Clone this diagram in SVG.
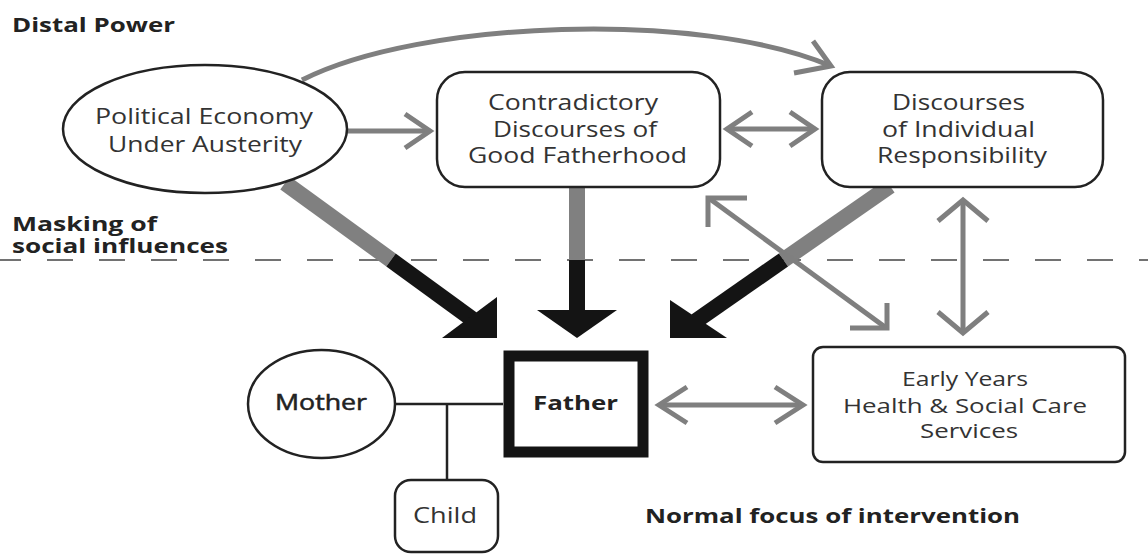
<svg xmlns="http://www.w3.org/2000/svg" width="1148" height="556" viewBox="0 0 1148 556">
<style>
.t{font-family:"Open Sans","Liberation Sans",sans-serif;font-size:21px;fill:#333}
.s{font-size:20px}
.b{font-family:"Open Sans","Liberation Sans",sans-serif;font-size:20px;font-weight:bold;fill:#222}
.bs{font-size:19px}
.node{fill:#fff;stroke:#222;stroke-width:2.5}
.g{fill:none;stroke:#7f7f7f;stroke-width:5;stroke-linecap:butt;stroke-linejoin:miter}
.gt{fill:none;stroke:#808080;stroke-width:16}
.bt{fill:none;stroke:#141414;stroke-width:16}
.ah{fill:#141414;stroke:none}
.fam{fill:none;stroke:#222;stroke-width:2.5}
</style>
<rect width="1148" height="556" fill="#fff"/>
<g id="labels">
<text class="b" x="12" y="32" textLength="163" lengthAdjust="spacingAndGlyphs">Distal Power</text>
<text class="b bs" x="12" y="231" textLength="145" lengthAdjust="spacingAndGlyphs">Masking of</text>
<text class="b bs" x="12" y="253" textLength="216" lengthAdjust="spacingAndGlyphs">social influences</text>
<text class="b" x="645" y="523" textLength="375" lengthAdjust="spacingAndGlyphs">Normal focus of intervention</text>
</g>
<line x1="-5" y1="260" x2="1148" y2="260" stroke="#444" stroke-width="1.6" stroke-dasharray="26 26"/>
<g id="connectors">
<line class="gt" x1="285" y1="183" x2="391" y2="260"/>
<line class="bt" x1="391" y1="260" x2="472" y2="319"/>
<polygon class="ah" points="497,297 497,338 442,338"/>
<line class="gt" x1="577" y1="187" x2="577" y2="260"/>
<line class="bt" x1="577" y1="260" x2="577" y2="312"/>
<polygon class="ah" points="537,310 617,310 577,338"/>
<line class="gt" x1="890" y1="186" x2="783.5" y2="260"/>
<line class="bt" x1="783.5" y1="260" x2="696" y2="321"/>
<polygon class="ah" points="670,300 670,338 727,338"/>
<path class="g" d="M302 80 C420 20 700 10 831 66"/>
<path class="g" d="M813 41 L831 66 L794 73"/>
<line class="g" x1="347" y1="131" x2="429" y2="131"/>
<path class="g" d="M405 114 L430 131 L405 148"/>
<line class="g" x1="727" y1="129" x2="815" y2="129"/>
<path class="g" d="M752 112 L727 129 L752 146"/>
<path class="g" d="M790 112 L815 129 L790 146"/>
<line class="g" x1="710" y1="199" x2="885" y2="327"/>
<path class="g" d="M747 198 L708 198 L708 227"/>
<path class="g" d="M850 328 L887 328 L887 303"/>
<line class="g" x1="963" y1="202" x2="963" y2="331"/>
<path class="g" d="M938 221 L963 200 L988 221"/>
<path class="g" d="M938 312 L963 333 L988 312"/>
<line class="g" x1="659" y1="405" x2="803" y2="405"/>
<path class="g" d="M687 387 L659 405 L687 423"/>
<path class="g" d="M775 387 L803 405 L775 423"/>
<line class="fam" x1="395" y1="404" x2="503" y2="404"/>
<line class="fam" x1="447" y1="404" x2="447" y2="480"/>
</g>
<g id="political">
<ellipse class="node" cx="205" cy="129" rx="142" ry="64"/>
<text class="t" x="95" y="124" textLength="218" lengthAdjust="spacingAndGlyphs">Political Economy</text>
<text class="t" x="108" y="152" textLength="194" lengthAdjust="spacingAndGlyphs">Under Austerity</text>
</g>
<g id="contradictory">
<rect class="node" x="437" y="72" width="283" height="115" rx="28" ry="28"/>
<text class="t" x="488" y="110" textLength="170" lengthAdjust="spacingAndGlyphs">Contradictory</text>
<text class="t" x="493" y="137" textLength="164" lengthAdjust="spacingAndGlyphs">Discourses of</text>
<text class="t" x="468" y="163" textLength="219" lengthAdjust="spacingAndGlyphs">Good Fatherhood</text>
</g>
<g id="individual">
<rect class="node" x="822" y="72" width="281" height="115" rx="28" ry="28"/>
<text class="t" x="892" y="110" textLength="133" lengthAdjust="spacingAndGlyphs">Discourses</text>
<text class="t" x="882" y="137" textLength="153" lengthAdjust="spacingAndGlyphs">of Individual</text>
<text class="t" x="877" y="163" textLength="170" lengthAdjust="spacingAndGlyphs">Responsibility</text>
</g>
<g id="mother">
<ellipse class="node" cx="321.5" cy="404" rx="73.5" ry="54"/>
<text class="t" x="275" y="410" textLength="92" lengthAdjust="spacingAndGlyphs" style="fill:#222;stroke:#222;stroke-width:0.5">Mother</text>
</g>
<g id="father">
<rect x="509" y="356" width="134" height="96" fill="#fff" stroke="#141414" stroke-width="11"/>
<text class="b" x="533" y="410" textLength="85" lengthAdjust="spacingAndGlyphs">Father</text>
</g>
<g id="child">
<rect class="node" x="395" y="480" width="103" height="72" rx="16" ry="16"/>
<text class="t" x="413" y="523" textLength="64" lengthAdjust="spacingAndGlyphs">Child</text>
</g>
<g id="services">
<rect class="node" x="813" y="347" width="312" height="115" rx="10" ry="10"/>
<text class="t s" x="902" y="386" textLength="126" lengthAdjust="spacingAndGlyphs">Early Years</text>
<text class="t s" x="843" y="413" textLength="244" lengthAdjust="spacingAndGlyphs">Health &amp; Social Care</text>
<text class="t s" x="920" y="438" textLength="98" lengthAdjust="spacingAndGlyphs">Services</text>
</g>
</svg>
